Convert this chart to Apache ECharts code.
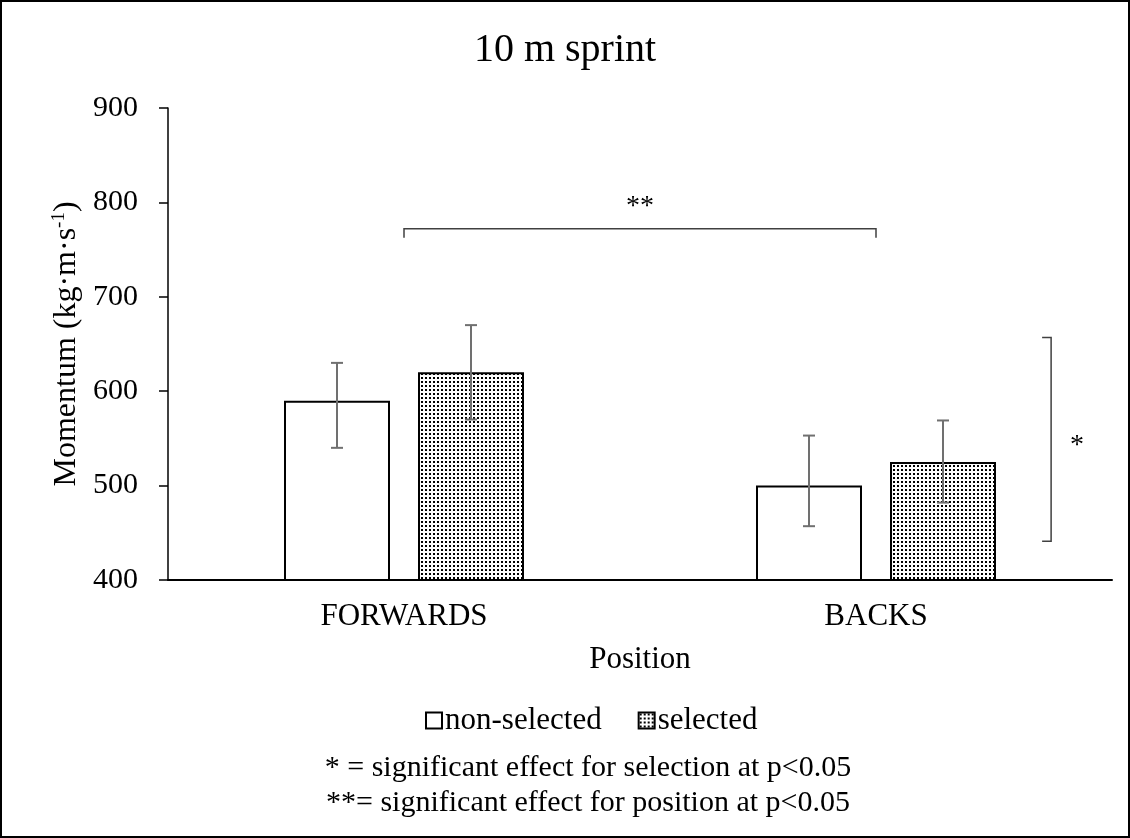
<!DOCTYPE html>
<html><head><meta charset="utf-8">
<script src="https://cdn.jsdelivr.net/npm/echarts@6/dist/echarts.min.js"></script>
<style>html,body{margin:0;padding:0;background:#fff}#c{width:1130px;height:838px}</style>
</head><body><div id="c"></div>
<script>
// ---- data ----
const categories = ['FORWARDS', 'BACKS'];
const seriesNames = ['non-selected', 'selected'];
const nonSelected = [590, 500];
const selected = [620, 525];
const nonSelectedErrLow = [540, 457];
const nonSelectedErrHigh = [630, 553];
const selectedErrLow = [570, 482];
const selectedErrHigh = [670, 569];
const yMin = 400, yMax = 900, yStep = 100;
// position effect bracket: [fromCategory, toCategory, value]
const positionBracket = [[0, 1, 772]];
// selection effect bracket: [category, lowValue, highValue]
const selectionBracket = [[1, 441, 657]];
const footnotes = ['* = significant effect for selection at p<0.05', '**= significant effect for position at p<0.05'];

// ---- styles ----
const FONT = "'Times New Roman', 'Liberation Serif', serif";
const BAR_W = 106, BAR_GAP = 28;
const ERR_COLOR = '#707070';

function makePattern() {
  const c = document.createElement('canvas');
  c.width = 4; c.height = 4;
  const g = c.getContext('2d');
  g.fillStyle = '#fff'; g.fillRect(0, 0, 4, 4);
  g.fillStyle = '#000'; g.fillRect(1, 1, 2, 2);
  return c;
}
const pattern = { image: makePattern(), repeat: 'repeat' };

function errData(lo, hi) { return categories.map((c, i) => [i, lo[i], hi[i]]); }
function errRender(dir) {
  return function (params, api) {
    const i = api.value(0);
    const lo = api.coord([i, api.value(1)]);
    const hi = api.coord([i, api.value(2)]);
    const cx = lo[0] + dir * (BAR_W + BAR_GAP) / 2;
    const cap = 6;
    const st = { stroke: ERR_COLOR, lineWidth: 2 };
    return { type: 'group', children: [
      { type: 'line', shape: { x1: cx, y1: hi[1], x2: cx, y2: lo[1] }, style: st },
      { type: 'line', shape: { x1: cx - cap, y1: hi[1], x2: cx + cap, y2: hi[1] }, style: st },
      { type: 'line', shape: { x1: cx - cap, y1: lo[1], x2: cx + cap, y2: lo[1] }, style: st }
    ]};
  };
}

const chart = echarts.init(document.getElementById('c'), null, { renderer: 'canvas' });
chart.setOption({
  animation: false,
  backgroundColor: '#fff',
  textStyle: { fontFamily: FONT, color: '#000' },
  title: { text: '10 m sprint', left: 'center', top: 25,
    textStyle: { fontFamily: FONT, fontSize: 40, fontWeight: 'normal', color: '#000' } },
  grid: { left: 168, right: 18, top: 108, bottom: 258 },
  legend: {
    data: seriesNames, top: 700, left: 420, icon: 'rect',
    itemWidth: 16, itemHeight: 16, itemGap: 36,
    textStyle: { fontFamily: FONT, fontSize: 31, color: '#000', padding: [0, 0, 0, -2] }
  },
  xAxis: {
    type: 'category', data: categories,
    axisLine: { lineStyle: { color: '#000', width: 2 } },
    axisTick: { show: false },
    axisLabel: { fontFamily: FONT, fontSize: 31, color: '#000', margin: 21 },
    name: 'Position', nameLocation: 'middle', nameGap: 64,
    nameTextStyle: { fontFamily: FONT, fontSize: 31, color: '#000' }
  },
  yAxis: {
    type: 'value', min: yMin, max: yMax, interval: yStep,
    splitLine: { show: false },
    axisLine: { show: true, lineStyle: { color: '#000', width: 1.5 } },
    axisTick: { show: true, length: 9, lineStyle: { color: '#000', width: 1.5 } },
    axisLabel: { fontFamily: FONT, fontSize: 30, color: '#000', margin: 30 },
    name: 'Momentum (kg·m·s{sup|-1})', nameLocation: 'middle', nameGap: 82,
    nameTextStyle: { fontFamily: FONT, fontSize: 32, color: '#000',
      rich: { sup: { fontFamily: FONT, fontSize: 19, color: '#000', verticalAlign: 'top', padding: [0, 0, 14, 0] } } }
  },
  series: [
    { name: seriesNames[0], type: 'bar', data: nonSelected, barWidth: BAR_W, barGap: (BAR_GAP / BAR_W * 100) + '%',
      itemStyle: { color: '#fff', borderColor: '#000', borderWidth: 2 } },
    { name: seriesNames[1], type: 'bar', data: selected, barWidth: BAR_W,
      itemStyle: { color: pattern, borderColor: '#000', borderWidth: 2 } },
    { type: 'custom', renderItem: errRender(-1), data: errData(nonSelectedErrLow, nonSelectedErrHigh),
      encode: { x: 0, y: [1, 2] }, z: 5, silent: true },
    { type: 'custom', renderItem: errRender(1), data: errData(selectedErrLow, selectedErrHigh),
      encode: { x: 0, y: [1, 2] }, z: 5, silent: true },
    { type: 'custom', data: positionBracket, encode: { x: [0, 1], y: 2 }, z: 5, silent: true,
      renderItem: function (params, api) {
        const a = api.coord([api.value(0), api.value(2)]);
        const b = api.coord([api.value(1), api.value(2)]);
        return { type: 'group', children: [
          { type: 'polyline', shape: { points: [[a[0], a[1] + 9], a, b, [b[0], b[1] + 9]] },
            style: { stroke: '#404040', lineWidth: 1.5, fill: null } },
          { type: 'text', style: { text: '**', x: (a[0] + b[0]) / 2, y: a[1] - 22, align: 'center', verticalAlign: 'middle',
            font: '28px ' + FONT, fill: '#000' } }
        ]};
      } },
    { type: 'custom', data: selectionBracket, encode: { x: 0, y: [1, 2] }, z: 5, silent: true,
      renderItem: function (params, api) {
        const catW = api.size([1, 0])[0];
        const lo = api.coord([api.value(0), api.value(1)]);
        const hi = api.coord([api.value(0), api.value(2)]);
        const x = lo[0] + catW * 0.371;
        return { type: 'group', children: [
          { type: 'polyline', shape: { points: [[x - 9, hi[1]], [x, hi[1]], [x, lo[1]], [x - 9, lo[1]]] },
            style: { stroke: '#404040', lineWidth: 1.5, fill: null } },
          { type: 'text', style: { text: '*', x: x + 26, y: (lo[1] + hi[1]) / 2 + 6, align: 'center', verticalAlign: 'middle',
            font: '28px ' + FONT, fill: '#000' } }
        ]};
      } }
  ],
  graphic: [
    { type: 'rect', shape: { x: 1, y: 1, width: 1128, height: 836 }, style: { stroke: '#000', lineWidth: 2, fill: null }, silent: true },
    { type: 'text', x: 588, y: 768, style: { text: footnotes[0], font: '30px ' + FONT, fill: '#000', textAlign: 'center', textVerticalAlign: 'middle' } },
    { type: 'text', x: 588, y: 803, style: { text: footnotes[1], font: '30px ' + FONT, fill: '#000', textAlign: 'center', textVerticalAlign: 'middle' } }
  ]
});
</script>
</body></html>
